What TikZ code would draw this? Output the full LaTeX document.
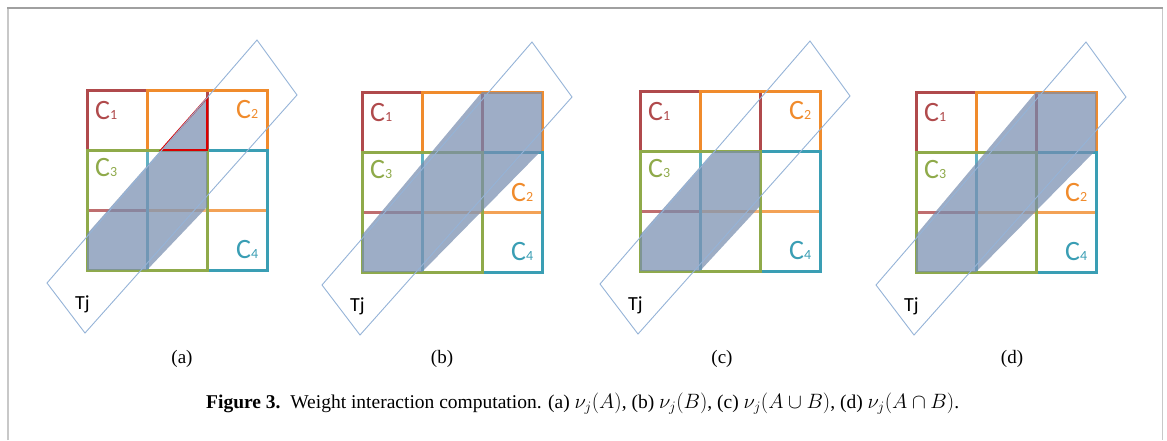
\documentclass[tikz,border=0pt]{standalone}
\usepackage{fontspec}
\setmainfont{Liberation Serif}
\newfontfamily\calib{Carlito}

\definecolor{cred}{RGB}{176,74,76}
\definecolor{corange}{RGB}{240,139,44}
\definecolor{cgreen}{RGB}{143,170,74}
\definecolor{cteal}{RGB}{58,158,180}
\definecolor{cshade}{RGB}{120,142,176}
\definecolor{ctj}{RGB}{149,179,215}
\definecolor{cframetop}{RGB}{160,160,160}
\definecolor{cframeside}{RGB}{200,200,200}

\tikzset{
	cell/.style={line width=3pt},
	band/.style={draw=ctj,line width=0.9pt},
	weight/.style={fill=cshade,fill opacity=0.72},
	clabel/.style={anchor=base west,inner sep=0pt,font=\calib},
	sublabel/.style={anchor=base,inner sep=0pt,font=\fontsize{19}{19}\selectfont},
}

% C_k label: big C with a small digit on the base line
\newcommand{\cname}[1]{{\fontsize{28}{28}\selectfont C}{\fontsize{14}{14}\selectfont #1}}

% the four overlapping 2x2 cells, T_j and the labels; #1 = panel, #2 = base line of C2
\newcommand{\cellgrid}[2]{
	\draw[cell,cred] (0,0) rectangle (120,120);
	\draw[cell,corange] (60,0) rectangle (180,120);
	\draw[cell,cteal,fill=white,fill opacity=0.2] (60,60) rectangle (180,180);
	\draw[cell,cgreen,fill=white,fill opacity=0.2] (0,60) rectangle (120,180);
	\node[clabel,text=cred] (c1#1) at (8,29) {\cname{1}};
	\node[clabel,text=corange] (c2#1) at (149,#2) {\cname{2}};
	\node[clabel,text=cgreen] (c3#1) at (8,86) {\cname{3}};
	\node[clabel,text=cteal] (c4#1) at (149,168) {\cname{4}};
}
\newcommand{\tjband}[1]{
	\draw[band] (170,-50) -- (210,5) -- (-2,243) -- (-40,193) -- cycle;
	\node[clabel,font=\calib\fontsize{20}{20}\selectfont] (tj#1) at (-12,219) {Tj};
}

\begin{document}
\begin{tikzpicture}[x=1pt,y=-1pt]
	\useasboundingbox (0,0) rectangle (1167,440);
	\draw[cframeside,line width=2pt] (8,440) -- (8,8);
	\draw[cframeside,line width=1pt] (1162,8) -- (1162,440);
	\draw[cframetop,line width=1.5pt] (7,8) -- (1163,8);

	% (a)
	\begin{scope}[shift={(87,90)}]
		\cellgrid{a}{28}
		\fill[weight] (0,180) -- (0,144) -- (74,60) -- (120,8) -- (120,117) -- (60,180) -- cycle;
		\draw[red!85!black,line width=1.6pt] (74,60) -- (120,8) -- (120,60) -- cycle;
		\tjband{a}
	\end{scope}
	% (b)
	\begin{scope}[shift={(362,92)}]
		\cellgrid{b}{109}
		\fill[weight] (0,180) -- (0,143) -- (120,0) -- (180,0) -- (180,58) -- (60,180) -- cycle;
		\tjband{b}
	\end{scope}
	% (c)
	\begin{scope}[shift={(640,91)}]
		\cellgrid{c}{28}
		\fill[weight] (0,180) -- (0,144) -- (74,60) -- (120,60) -- (120,115) -- (60,180) -- cycle;
		\tjband{c}
	\end{scope}
	% (d)
	\begin{scope}[shift={(916,92)}]
		\cellgrid{d}{109}
		\fill[weight] (0,180) -- (0,143) -- (120,0) -- (180,0) -- (180,58) -- (60,180) -- cycle;
		\tjband{d}
	\end{scope}

	\node[sublabel] (suba) at (182,363) {(a)};
	\node[sublabel] (subb) at (442,363) {(b)};
	\node[sublabel] (subc) at (722,363) {(c)};
	\node[sublabel] (subd) at (1012,363) {(d)};

	\node[anchor=base west,inner sep=0pt,font=\fontsize{19.5}{22}\selectfont] (caption) at (206,408)
		{\textbf{Figure 3.}\enskip Weight interaction computation. (a) $\nu_j(A)$, (b) $\nu_j(B)$, (c) $\nu_j(A\cup B)$, (d) $\nu_j(A\cap B)$.};
\end{tikzpicture}
\end{document}
